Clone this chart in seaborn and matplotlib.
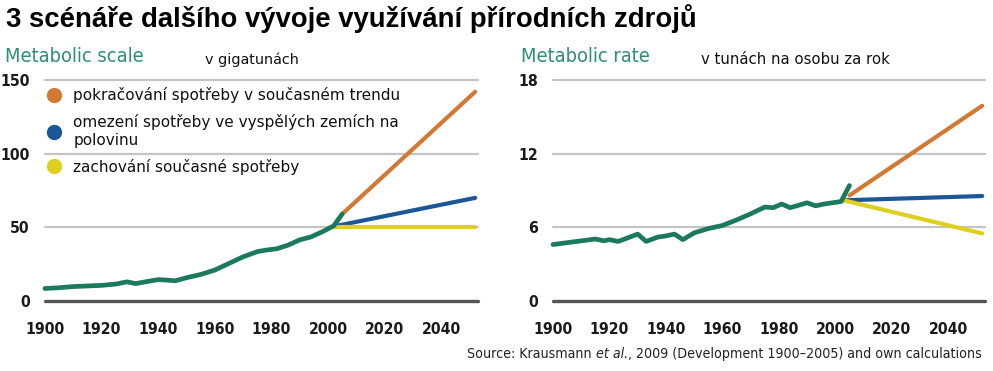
import matplotlib
matplotlib.use("Agg")
import matplotlib.pyplot as plt
import seaborn as sns
import pandas as pd
from matplotlib.lines import Line2D
from matplotlib import font_manager as fm

# ---------------- data ----------------
hist_years_scale = [1900, 1905, 1910, 1915, 1920, 1925, 1929, 1932, 1936, 1940, 1943, 1946,
                    1950, 1955, 1960, 1965, 1970, 1975, 1978, 1982, 1986, 1990, 1994, 1998,
                    2000, 2002, 2005]
hist_scale = [8.5, 9.0, 9.8, 10.2, 10.6, 11.5, 13.0, 11.8, 13.2, 14.5, 14.2, 13.7,
              15.8, 18.0, 21.0, 25.5, 30.0, 33.5, 34.5, 35.5, 38.0, 41.5, 43.5, 47.0,
              49.0, 51.0, 59.0]

hist_years_rate = [1900, 1905, 1910, 1915, 1918, 1920, 1923, 1926, 1930, 1933, 1937, 1940,
                   1943, 1946, 1950, 1955, 1960, 1965, 1970, 1975, 1978, 1981, 1984, 1987,
                   1990, 1993, 1996, 1999, 2002, 2005]
hist_rate = [4.6, 4.75, 4.9, 5.05, 4.9, 5.0, 4.85, 5.1, 5.45, 4.85, 5.2, 5.3,
             5.45, 5.0, 5.55, 5.9, 6.15, 6.6, 7.1, 7.65, 7.6, 7.9, 7.6, 7.8,
             8.0, 7.75, 7.9, 8.0, 8.1, 9.4]

scenario_names = ["pokračování spotřeby v současném trendu",
                  "omezení spotřeby ve vyspělých zemích na\npolovinu",
                  "zachování současné spotřeby"]
scen_years_scale = [[2005, 2052], [2003, 2052], [2002, 2052]]
scen_scale = [[59.0, 142.0], [51.0, 70.0], [50.0, 50.0]]
scen_years_rate = [[2005, 2052], [2003, 2052], [2003, 2052]]
scen_rate = [[8.6, 15.9], [8.2, 8.55], [8.2, 5.5]]

yticks_scale = [0, 50, 100, 150]
yticks_rate = [0, 6, 12, 18]
xticks = [1900, 1920, 1940, 1960, 1980, 2000, 2020, 2040]

# ---------------- style ----------------
colors = ["#d27a33", "#1b5797", "#ddd01e"]
green = "#1c7a5c"
teal = "#2f8c7a"

sns.set_theme(style="white")
plt.rcParams["font.family"] = ["DejaVu Sans"]


def cond(size, weight="normal", style="normal"):
    return fm.FontProperties(family="DejaVu Sans", stretch="condensed",
                             size=size, weight=weight, style=style)


fig = plt.figure(figsize=(9.93, 3.71), dpi=100)
ax1 = fig.add_axes([45 / 993, 1 - 301 / 371, 433 / 993, 221 / 371])
ax2 = fig.add_axes([553 / 993, 1 - 301 / 371, 432 / 993, 221 / 371])


def draw(ax, hy, hv, sy, sv, yticks):
    for t in yticks[1:]:
        ax.axhline(t, color="#c4c4c4", lw=1.6, zorder=0, clip_on=False)
    ax.axhline(0, color="#555555", lw=2.4, zorder=1, clip_on=False)
    rows = []
    for name, ys, vs in zip(scenario_names, sy, sv):
        for y, v in zip(ys, vs):
            rows.append({"year": y, "value": v, "series": name})
    df = pd.DataFrame(rows)
    sns.lineplot(data=df, x="year", y="value", hue="series", palette=colors,
                 hue_order=scenario_names, lw=3.0, ax=ax, legend=False,
                 estimator=None, sort=False, zorder=2)
    dh = pd.DataFrame({"year": hy, "value": hv})
    sns.lineplot(data=dh, x="year", y="value", color=green, lw=3.4, ax=ax,
                 estimator=None, zorder=3)
    for ln in ax.lines:
        ln.set_clip_on(False)
        ln.set_solid_capstyle("round")
    ax.set_xlim(1900, 2053)
    ax.set_ylim(yticks[0], yticks[-1])
    ax.set_yticks(yticks)
    ax.set_xticks(xticks)
    ax.set_xlabel("")
    ax.set_ylabel("")
    for s in ax.spines.values():
        s.set_visible(False)
    ax.tick_params(axis="both", length=0, labelcolor="#1a1a1a")
    ax.tick_params(axis="y", pad=11)
    ax.tick_params(axis="x", pad=15)
    for lab in ax.get_xticklabels() + ax.get_yticklabels():
        lab.set_fontproperties(cond(11.3, weight="bold"))


draw(ax1, hist_years_scale, hist_scale, scen_years_scale, scen_scale, yticks_scale)
draw(ax2, hist_years_rate, hist_rate, scen_years_rate, scen_rate, yticks_rate)

handles = [Line2D([], [], marker="o", ls="none", color=c, markersize=10) for c in colors]
leg = ax1.legend(handles, scenario_names, loc="upper left", bbox_to_anchor=(-0.012, 0.995),
                 frameon=False, fontsize=11, handletextpad=0.8, labelspacing=0.72,
                 borderaxespad=0.0, handlelength=1.0)
for t in leg.get_texts():
    t.set_color("#111111")
    t.set_linespacing(1.2)

fig.text(6 / 993, 1 - 19 / 371, "3 scénáře dalšího vývoje využívání přírodních zdrojů",
         family=["Liberation Sans", "DejaVu Sans"], fontsize=19.8, fontweight="bold",
         fontstretch="normal", va="center", ha="left", color="#000000")
fig.text(5 / 993, 1 - 57 / 371, "Metabolic scale", color=teal,
         fontproperties=cond(14.3), va="center", ha="left")
fig.text(521 / 993, 1 - 57 / 371, "Metabolic rate", color=teal,
         fontproperties=cond(14.3), va="center", ha="left")
fig.text(252 / 993, 1 - 60 / 371, "v gigatunách", fontsize=10.4, color="#111111",
         va="center", ha="center")
fig.text(795 / 993, 1 - 60 / 371, "v tunách na osobu za rok", fontsize=10.7,
         color="#111111", va="center", ha="center")

yy = 1 - 354 / 371
t1 = fig.text(467 / 993, yy, "Source: Krausmann ", va="center", ha="left",
              color="#222222", fontproperties=cond(10.2))
t2 = fig.text(0, yy, "et al.", va="center", ha="left", color="#222222",
              fontproperties=cond(10.2, style="italic"))
t3 = fig.text(0, yy, ", 2009 (Development 1900–2005) and own calculations",
              va="center", ha="left", color="#222222", fontproperties=cond(10.2))
fig.canvas.draw()
r = fig.canvas.get_renderer()
bb1 = t1.get_window_extent(r)
t2.set_position((bb1.x1 / fig.bbox.width, yy))
bb2 = t2.get_window_extent(r)
t3.set_position((bb2.x1 / fig.bbox.width, yy))

fig.savefig("out.png", dpi=100)
